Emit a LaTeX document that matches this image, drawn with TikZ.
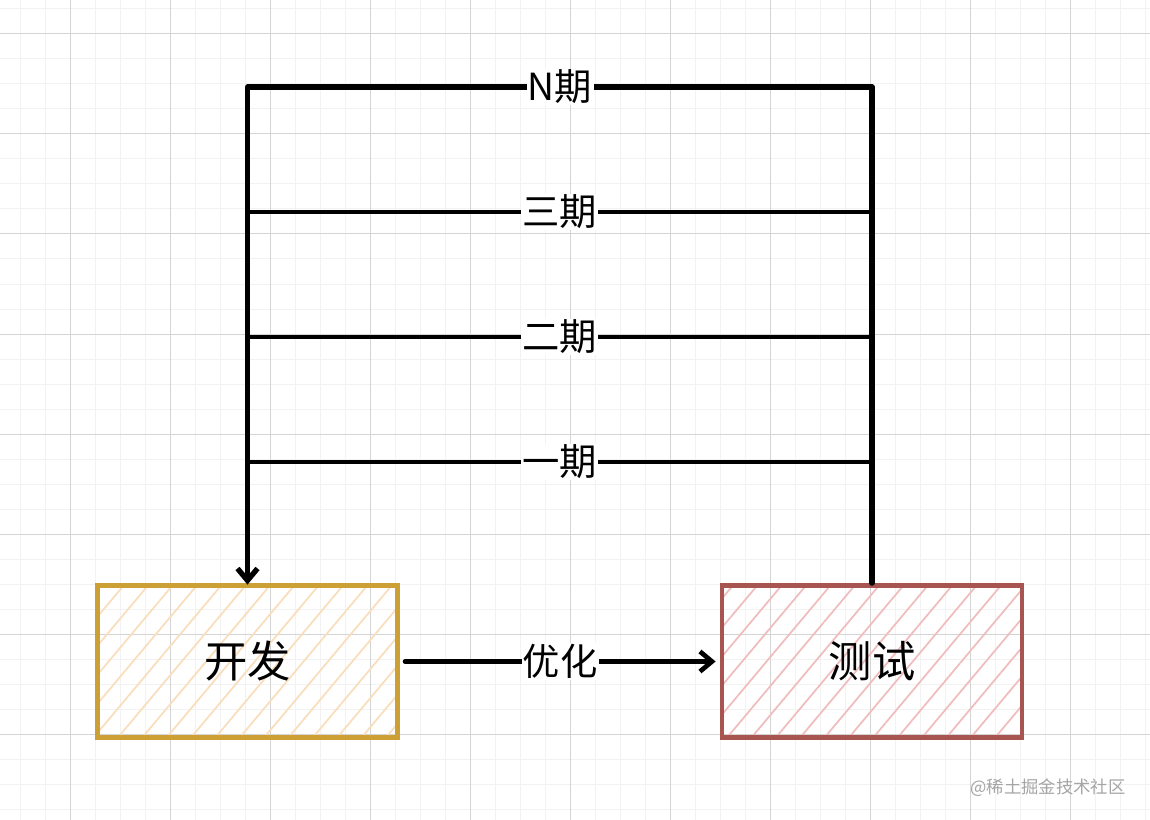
\documentclass[tikz,border=0pt]{standalone}
\usepackage{fontspec}
\setmainfont{Noto Sans CJK SC}
\definecolor{devline}{RGB}{204,160,52}
\definecolor{devhatch}{RGB}{250,222,188}
\definecolor{testline}{RGB}{168,84,80}
\definecolor{testhatch}{RGB}{240,188,190}
\definecolor{gridmaj}{RGB}{212,212,212}
\definecolor{gridmin}{RGB}{242,242,242}
\definecolor{mark}{RGB}{165,165,165}
\usetikzlibrary{arrows.meta,positioning,patterns.meta}
\tikzset{
  stage/.style={draw,line width=3.6pt,minimum width=225pt,minimum height=114pt,
                font=\fontsize{32.5}{36}\selectfont},
  devbox/.style={stage,draw=devline,pattern color=devhatch,
                 pattern={Lines[angle=50,distance=14pt,line width=1.3pt]}},
  testbox/.style={stage,draw=testline,pattern color=testhatch,
                  pattern={Lines[angle=50,distance=14pt,line width=1.3pt]}},
  flow/.style={line width=3.5pt,line cap=round,line join=round},
  arr/.style={flow,-{Straight Barb[length=9pt,width=15pt]}},
  lbl/.style={fill=white,inner sep=1pt,font=\fontsize{28}{32}\selectfont},
}

\begin{document}
\begin{tikzpicture}[x=0.75pt,y=-0.75pt]
    \useasboundingbox (0,0) rectangle (1150,820);
    \fill[white] (0,0) rectangle (1150,820);
    % grid
    \foreach \x in {20,45,...,1145} \draw[gridmin,line width=0.75pt] (\x,0) -- (\x,820);
    \foreach \y in {9,34,...,809} \draw[gridmin,line width=0.75pt] (0,\y) -- (1150,\y);
    \foreach \x in {70,170,...,1070} \draw[gridmaj,line width=0.75pt] (\x,0) -- (\x,820);
    \foreach \y in {34,134,...,734} \draw[gridmaj,line width=0.75pt] (0,\y) -- (1150,\y);

    \node[devbox] (dev) at (247.5,661.5) {开发};
    \node[testbox] (test) at (872,661.5) {测试};
    \coordinate (top) at (560,87);

    \draw[arr] ([xshift=5pt]dev.east) -- node[lbl]{优化} ([xshift=-3pt]test.west);
    \draw[arr,line width=4pt] (test.north) |- (top) node[lbl]{N期} -| (dev.north);
    \foreach \y/\t in {212/三期,337/二期,462/一期}
      \draw[flow] (dev.north |- 0,\y) -- node[lbl]{\t} (test.north |- 0,\y);

    \node[text=mark,font=\fontsize{13}{15}\selectfont] (wm) at (1048,788) {@稀土掘金技术社区};
  \end{tikzpicture}
\end{document}
